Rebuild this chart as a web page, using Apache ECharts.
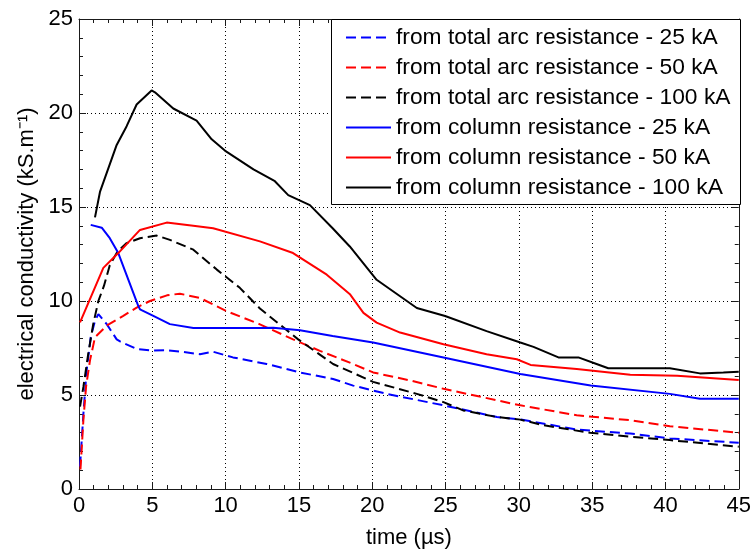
<!DOCTYPE html>
<html>
<head>
<meta charset="utf-8">
<script src="https://cdn.jsdelivr.net/npm/echarts@6/dist/echarts.min.js"></script>
<style>html,body{margin:0;padding:0;background:#fff;}#c{width:754px;height:554px;}</style>
</head>
<body>
<div id="c"></div>
<script>
// ---- data (time in µs, conductivity in kS/m) ----
const seriesNames = [
  'from total arc resistance - 25 kA',
  'from total arc resistance - 50 kA',
  'from total arc resistance - 100 kA',
  'from column resistance - 25 kA',
  'from column resistance - 50 kA',
  'from column resistance - 100 kA'
];
const total25 = [[0.07,1.2],[0.3,4.0],[0.52,6.3],[0.8,8.07],[1.09,8.95],[1.32,9.3],[1.89,8.77],[2.57,7.96],[2.8,7.85],[3.93,7.45],[4.84,7.37],[5.98,7.38],[7.0,7.3],[8.25,7.17],[9.15,7.3],[10.5,7.0],[12.8,6.65],[15.07,6.2],[17.33,5.85],[18.7,5.5],[20.06,5.24],[21.0,5.06],[24.86,4.45],[28.5,3.83],[30.1,3.7],[33.95,3.16],[37.6,2.95],[40.3,2.69],[45,2.46]];
const total50 = [[0.1,1.04],[0.3,3.68],[0.48,5.43],[0.75,6.84],[1.09,8.07],[1.89,8.69],[3.02,9.21],[3.93,9.65],[4.84,10.0],[6.0,10.3],[6.88,10.39],[8.25,10.16],[10.07,9.46],[12.34,8.76],[14.6,7.96],[16.43,7.35],[18.7,6.65],[20.06,6.2],[22.6,5.77],[24.86,5.33],[30.1,4.45],[33.95,3.92],[37.6,3.66],[40.3,3.34],[45,2.99]];
const total100 = [[0.07,4.38],[0.3,5.43],[0.63,7.19],[0.97,8.77],[1.32,10.0],[1.7,10.8],[2.1,11.9],[2.6,12.6],[3.25,13.08],[4.16,13.34],[5.3,13.48],[6.2,13.25],[7.8,12.73],[9.4,11.67],[10.97,10.7],[12.34,9.6],[14.95,7.96],[17.33,6.65],[20.06,5.7],[23.04,5.06],[24.86,4.62],[26.2,4.18],[28.5,3.83],[30.1,3.69],[31.7,3.39],[34.86,2.99],[37.6,2.78],[40.3,2.6],[45,2.25]];
const column25 = [[0.8,14.05],[1.55,13.9],[2.1,13.34],[2.68,12.55],[4.04,9.74],[4.16,9.56],[5.07,9.21],[6.2,8.77],[7.8,8.56],[12.3,8.56],[13.25,8.58],[15.07,8.44],[17.3,8.14],[20.06,7.79],[24.86,7.0],[30.1,6.12],[34.9,5.5],[40.3,5.06],[42.35,4.8],[45,4.8]];
const column50 = [[0.07,8.86],[1.66,11.76],[2.68,12.55],[4.16,13.78],[5.98,14.17],[7.79,14.0],[9.15,13.87],[12.34,13.17],[14.6,12.55],[16.9,11.4],[18.5,10.34],[19.4,9.37],[20.3,8.85],[21.9,8.32],[24.86,7.7],[27.8,7.17],[29.86,6.9],[30.8,6.6],[33.95,6.38],[37.6,6.08],[40.8,6.03],[45,5.8]];
const column100 = [[1.09,14.45],[1.43,15.8],[2.57,18.3],[3.25,19.3],[3.93,20.45],[4.95,21.2],[5.18,21.1],[6.43,20.24],[8.02,19.6],[9.05,18.6],[9.95,18.0],[11.9,17.0],[13.36,16.37],[14.27,15.63],[15.75,15.1],[17.3,13.87],[18.47,12.9],[20.3,11.13],[23.04,9.63],[24.97,9.2],[27.8,8.4],[30.1,7.79],[31.0,7.56],[32.7,7.0],[34.06,7.0],[35.3,6.65],[36.1,6.42],[40.3,6.42],[42.35,6.15],[43.95,6.2],[45,6.24]];
const xTicks = {min: 0, max: 45, step: 5};
const yTicks = {min: 0, max: 25, step: 5};

const dataList = [total25, total50, total100, column25, column50, column100];
const colors = ['#0000ff', '#ff0000', '#000000', '#0000ff', '#ff0000', '#000000'];
const dashed = [true, true, true, false, false, false];

const FONT = 'Liberation Sans, Arial, sans-serif';
const axisColor = '#1a1a1a';

function mkAxis(extra) {
  return Object.assign({
    type: 'value',
    axisLine: {show: true, onZero: false, lineStyle: {color: axisColor, width: 1}},
    axisTick: {show: true, inside: true, length: 7, lineStyle: {color: axisColor, width: 1}},
    minorTick: {show: true, splitNumber: 5, length: 4, lineStyle: {color: axisColor, width: 1}},
    splitLine: {show: false},
    axisLabel: {show: false}
  }, extra);
}

const chart = echarts.init(document.getElementById('c'), null, {renderer: 'canvas'});
chart.setOption({
  animation: false,
  backgroundColor: '#ffffff',
  grid: {left: 79, right: 14, top: 19, bottom: 61, containLabel: false},
  xAxis: [
    mkAxis({
      position: 'bottom', min: xTicks.min, max: xTicks.max, interval: xTicks.step,
      name: 'time (µs)', nameLocation: 'middle', nameGap: 38,
      nameTextStyle: {fontFamily: FONT, fontSize: 22, color: '#000'},
      axisLabel: {show: true, margin: 6, fontFamily: FONT, fontSize: 22, color: '#000'},
      splitLine: {show: true, lineStyle: {color: '#000', width: 1, type: [1, 3]}}
    }),
    mkAxis({position: 'top', min: xTicks.min, max: xTicks.max, interval: xTicks.step})
  ],
  yAxis: [
    mkAxis({
      position: 'left', min: yTicks.min, max: yTicks.max, interval: yTicks.step,
      name: 'electrical conductivity (kS.m⁻¹)', nameLocation: 'middle', nameGap: 40,
      nameTextStyle: {fontFamily: FONT, fontSize: 22, color: '#000'},
      axisLabel: {show: true, margin: 6, fontFamily: FONT, fontSize: 22, color: '#000'},
      splitLine: {show: true, lineStyle: {color: '#000', width: 1, type: [1, 3]}}
    }),
    mkAxis({position: 'right', min: yTicks.min, max: yTicks.max, interval: yTicks.step})
  ],
  graphic: [{
    type: 'rect', z: 50, left: 331, top: 19,
    shape: {x: 0, y: 0, width: 409, height: 185},
    style: {fill: '#ffffff', stroke: '#000000', lineWidth: 1}
  }],
  legend: {
    z: 60,
    orient: 'vertical', left: 345, top: 26, padding: 0,
    itemWidth: 45, itemHeight: 14, itemGap: 7,
    itemStyle: {opacity: 0},
    textStyle: {fontFamily: FONT, fontSize: 22.8, color: '#000'},
    data: seriesNames
  },
  series: seriesNames.map((n, i) => ({
    name: n, type: 'line', xAxisIndex: 0, yAxisIndex: 0,
    data: dataList[i], showSymbol: false, symbol: 'none', smooth: false,
    lineStyle: {color: colors[i], width: 2, type: dashed[i] ? [10, 5] : 'solid'},
    itemStyle: {color: colors[i]},
    z: 3
  }))
});
</script>
</body>
</html>
